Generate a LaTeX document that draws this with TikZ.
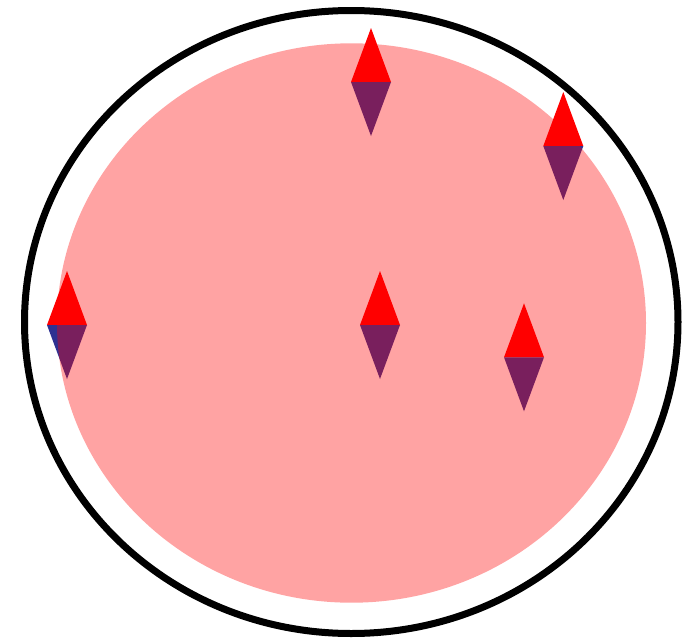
\documentclass[tikz,border=0pt]{standalone}
\usetikzlibrary{calc}
\definecolor{tipred}{RGB}{255,0,0}
\definecolor{tipblue}{RGB}{46,49,146}
\tikzset{
  needle/.pic={
    \fill[tipred] (-20,0) -- (0,-54) -- (20,0) -- cycle;
    \fill[tipblue] (-20,0) -- (0,54) -- (20,0) -- cycle;
  }
}
\begin{document}
\begin{tikzpicture}[x=1pt,y=-1pt]
\useasboundingbox (0,0) rectangle (686,640);
\draw[line width=7pt] (351.25,322) ellipse [x radius=326.75, y radius=311.5];
\pic at (371,82) {needle};
\pic at (563.3,146) {needle};
\pic at (67,325) {needle};
\pic at (380,325) {needle};
\pic at (524,357.3) {needle};
\fill[red,opacity=0.36] (351.5,323) ellipse [x radius=294.5, y radius=279.7];
\end{tikzpicture}
\end{document}
